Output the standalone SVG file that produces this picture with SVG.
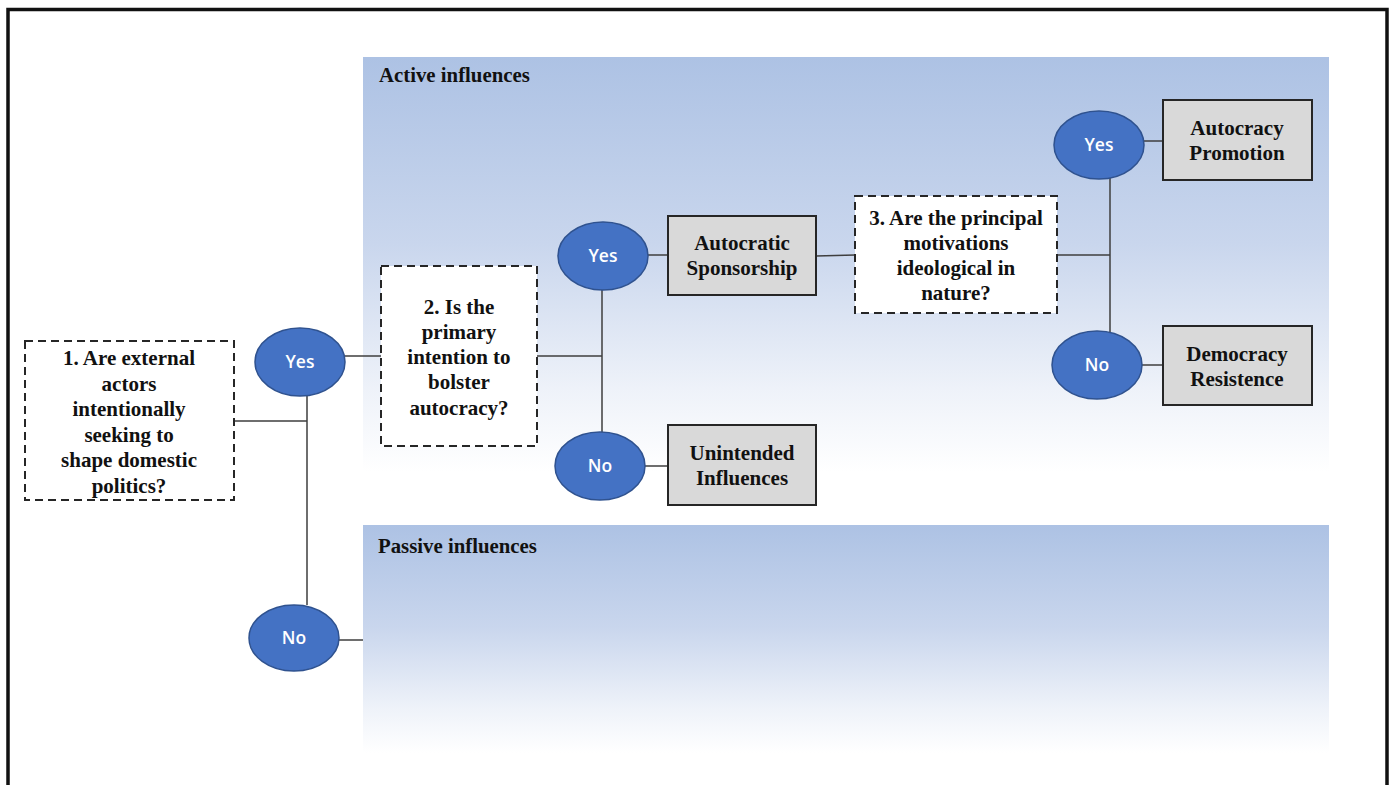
<svg xmlns="http://www.w3.org/2000/svg" width="1397" height="785" viewBox="0 0 1397 785">
<defs>
<linearGradient id="bg" x1="0" y1="0" x2="0" y2="1">
<stop offset="0" stop-color="#adc2e4"/>
<stop offset="0.45" stop-color="#c9d6ed"/>
<stop offset="0.8" stop-color="#eef2f9"/>
<stop offset="1" stop-color="#ffffff"/>
</linearGradient>
<style>
.q{fill:#ffffff;stroke:#262626;stroke-width:2;stroke-dasharray:8 5}
.r{fill:#d9d9d9;stroke:#262626;stroke-width:2}
.e{fill:#4472c4;stroke:#2f528f;stroke-width:1.5}
.t{font-family:"Liberation Serif","Times New Roman",serif;font-weight:bold;font-size:21px;fill:#111;text-anchor:middle}
.h{font-family:"Liberation Serif","Times New Roman",serif;font-weight:bold;font-size:20.8px;fill:#111}
.y{font-family:"Open Sans","Liberation Sans",sans-serif;font-weight:600;font-size:17.5px;fill:#fff;text-anchor:middle}
.c{fill:none;stroke:#3f3f3f;stroke-width:1.5}
</style>
</defs>
<rect x="0" y="0" width="1397" height="785" fill="#fff"/>
<rect x="8" y="9.5" width="1379" height="820" fill="none" stroke="#111" stroke-width="3.5"/>
<g id="active-region">
<rect x="363" y="57" width="966" height="415" fill="url(#bg)"/>
<text class="h" x="379" y="82">Active influences</text>
</g>
<g id="passive-region">
<rect x="363" y="525" width="966" height="228" fill="url(#bg)"/>
<text class="h" x="378" y="553">Passive influences</text>
</g>
<g id="connectors">
<path class="c" d="M234 421H307M307 396V605M345 356H381M339 640H363"/>
<path class="c" d="M537 356H602M602 290V432M648 255H668M645 466H668M816 256L855 255"/>
<path class="c" d="M1057 255H1110M1110 178V332M1144 141H1163M1142 365H1163"/>
</g>
<g id="q1">
<rect class="q" x="25" y="341" width="209" height="159"/>
<text class="t"><tspan x="129" y="365">1. Are external</tspan><tspan x="129" y="391">actors</tspan><tspan x="129" y="416">intentionally</tspan><tspan x="129" y="442">seeking to</tspan><tspan x="129" y="467">shape domestic</tspan><tspan x="129" y="493">politics?</tspan></text>
</g>
<g id="yes1"><ellipse class="e" cx="300" cy="362" rx="45" ry="34"/><text class="y" x="300" y="368">Yes</text></g>
<g id="no1"><ellipse class="e" cx="294" cy="638" rx="45" ry="33"/><text class="y" x="294" y="644">No</text></g>
<g id="q2">
<rect class="q" x="381" y="266" width="156" height="180"/>
<text class="t"><tspan x="459" y="314">2. Is the</tspan><tspan x="459" y="339">primary</tspan><tspan x="459" y="364">intention to</tspan><tspan x="459" y="389">bolster</tspan><tspan x="459" y="415">autocracy?</tspan></text>
</g>
<g id="yes2"><ellipse class="e" cx="603" cy="256" rx="45" ry="34"/><text class="y" x="603" y="262">Yes</text></g>
<g id="no2"><ellipse class="e" cx="600" cy="466" rx="45" ry="34"/><text class="y" x="600" y="472">No</text></g>
<g id="autocratic-sponsorship">
<rect class="r" x="668" y="216" width="148" height="79"/>
<text class="t"><tspan x="742" y="250">Autocratic</tspan><tspan x="742" y="275">Sponsorship</tspan></text>
</g>
<g id="unintended-influences">
<rect class="r" x="668" y="425" width="148" height="80"/>
<text class="t"><tspan x="742" y="460">Unintended</tspan><tspan x="742" y="485">Influences</tspan></text>
</g>
<g id="q3">
<rect class="q" x="855" y="196" width="202" height="117"/>
<text class="t"><tspan x="956" y="225">3. Are the principal</tspan><tspan x="956" y="250">motivations</tspan><tspan x="956" y="275">ideological in</tspan><tspan x="956" y="300">nature?</tspan></text>
</g>
<g id="yes3"><ellipse class="e" cx="1099" cy="145" rx="45" ry="34"/><text class="y" x="1099" y="151">Yes</text></g>
<g id="no3"><ellipse class="e" cx="1097" cy="365" rx="45" ry="34"/><text class="y" x="1097" y="371">No</text></g>
<g id="autocracy-promotion">
<rect class="r" x="1163" y="100" width="149" height="80"/>
<text class="t"><tspan x="1237" y="135">Autocracy</tspan><tspan x="1237" y="160">Promotion</tspan></text>
</g>
<g id="democracy-resistence">
<rect class="r" x="1163" y="326" width="149" height="79"/>
<text class="t"><tspan x="1237" y="361">Democracy</tspan><tspan x="1237" y="386">Resistence</tspan></text>
</g>
</svg>
